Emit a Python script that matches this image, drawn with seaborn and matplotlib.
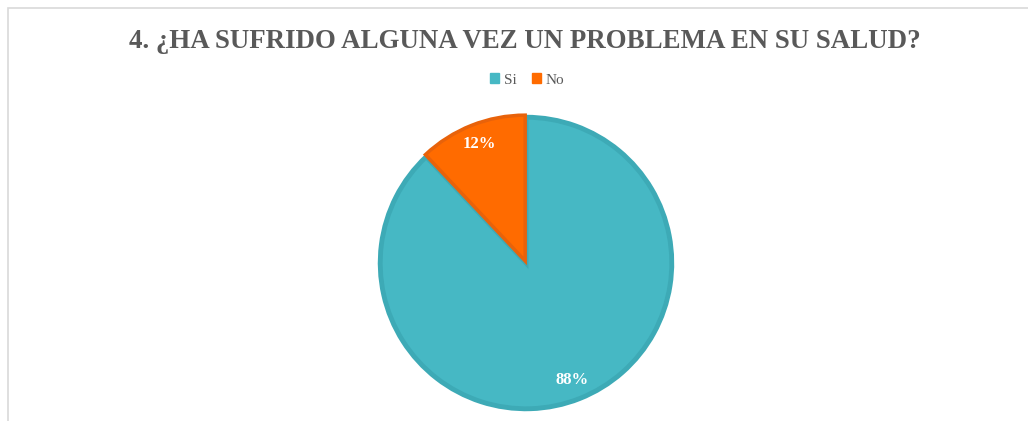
import matplotlib
matplotlib.use("Agg")
import matplotlib.pyplot as plt
import seaborn as sns
from matplotlib.patches import Rectangle, Patch

# datos
categorias = ["Si", "No"]
valores = [88, 12]
titulo = "4. ¿HA SUFRIDO ALGUNA VEZ UN PROBLEMA EN SU SALUD?"

sns.set_theme(style="white")
plt.rcParams['font.family'] = ['Liberation Serif', 'DejaVu Serif']

colores = ["#46B8C4", "#FF6B00"]
bordes = ["#3DAAB6", "#E8620A"]
gris = "#595959"

fig = plt.figure(figsize=(10.28, 4.21), dpi=100)

# marco del area del grafico (recortado a la derecha y abajo)
fig.add_artist(Rectangle((8 / 1028, -0.1), 1.2, 1 - 8 / 421 + 0.1,
                         transform=fig.transFigure, fill=False,
                         edgecolor="#D9D9D9", lw=1.2))

fig.text(0.511, 1 - 41 / 421, titulo, ha="center", va="center",
         fontsize=19.4, fontweight="bold", color=gris)

# pastel
cx, cy, r = 526, 263, 148
ax = fig.add_axes([(cx - r) / 1028, (421 - cy - r) / 421, 2 * r / 1028, 2 * r / 421])
wedges, _, autotexts = ax.pie(
    valores, colors=colores, startangle=90, counterclock=False,
    radius=0.985, autopct="%1.0f%%", pctdistance=0.86,
    explode=[0, 0.015],
    wedgeprops=dict(linewidth=3.5),
    textprops=dict(color="white", fontsize=12, fontweight="bold"),
)
for w, b, lw in zip(wedges, bordes, [3.5, 2.5]):
    w.set_edgecolor(b)
    w.set_linewidth(lw)
ax.set_aspect("equal")
ax.set_xlim(-1, 1)
ax.set_ylim(-1, 1)
ax.axis("off")

# leyenda
handles = [Patch(facecolor=c, edgecolor=c) for c in colores]
fig.legend(handles, categorias, loc="center", bbox_to_anchor=(0.513, 1 - 80 / 421),
           ncol=2, frameon=False, fontsize=11, labelcolor=gris,
           handlelength=0.6, handleheight=0.6, handletextpad=0.3, columnspacing=1.0)

plt.savefig("out.png", dpi=100)
